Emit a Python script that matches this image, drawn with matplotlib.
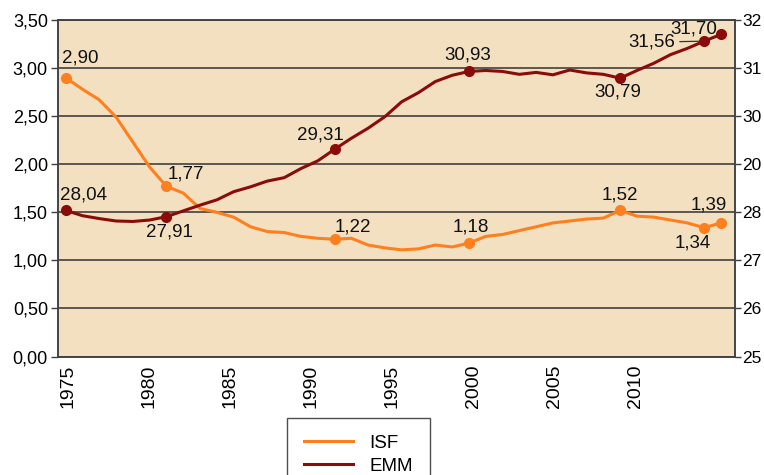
import matplotlib
matplotlib.use('Agg')
import matplotlib.pyplot as plt
import numpy as np

plt.rcParams['font.family'] = ['Liberation Sans', 'DejaVu Sans']

# ── Data ──────────────────────────────────────────────────────
years = list(range(1975, 2015))
isf = [2.90, 2.78, 2.67, 2.49, 2.23, 1.97, 1.77, 1.70, 1.54, 1.50,
       1.45, 1.35, 1.30, 1.29, 1.25, 1.23, 1.22, 1.23, 1.16, 1.13,
       1.11, 1.12, 1.16, 1.14, 1.18, 1.25, 1.27, 1.31, 1.35, 1.39,
       1.41, 1.43, 1.44, 1.52, 1.46, 1.45, 1.42, 1.39, 1.34, 1.39]
emm = [28.04, 27.93, 27.87, 27.82, 27.81, 27.84, 27.91, 28.03, 28.15, 28.26,
       28.43, 28.53, 28.65, 28.72, 28.91, 29.07, 29.31, 29.54, 29.75, 29.99,
       30.30, 30.49, 30.72, 30.85, 30.93, 30.95, 30.93, 30.87, 30.91, 30.86,
       30.96, 30.90, 30.87, 30.79, 30.95, 31.10, 31.28, 31.41, 31.56, 31.70]
marked_years = [1975, 1981, 1991, 1999, 2008, 2013, 2014]

x_labels = ['1975', '1980', '1985', '1990', '1995', '2000', '2005', '2010']
left_ticks = [0, 0.5, 1.0, 1.5, 2.0, 2.5, 3.0, 3.5]
right_ticks = [25, 26, 27, 28, 29, 30, 31, 32]
right_labels = ['25', '26', '27', '28', '20', '30', '31', '32']

# label offsets in pixels (dx, dy) for each marked point
isf_offsets = [(15, 20), (19, 12), (18, 12), (2, 16), (0, 15), (-11, -15), (-12, 18)]
emm_offsets = [(18, 15), (3, -15), (-14, 14), (-1, 16), (-2, -14), (-52, -1), (-27, 5)]

ISF_C = '#FF7F1E'
EMM_C = '#8B0A0A'
BG = '#F3E0C1'
GRID = '#333333'


def fmt(v):
    return f"{v:.2f}".replace('.', ',')


fig = plt.figure(figsize=(7.64, 4.75), dpi=100)
ax = fig.add_axes([0.0755, 0.2493, 0.8865, 0.7086])
ax.set_facecolor(BG)
ax2 = ax.twinx()

ax.plot(years, isf, color=ISF_C, linewidth=2.2, zorder=3, label='ISF')
ax2.plot(years, emm, color=EMM_C, linewidth=2.2, zorder=3, label='EMM')

idx = [years.index(y) for y in marked_years]
ax.plot([years[i] for i in idx], [isf[i] for i in idx], 'o', color=ISF_C,
        markersize=7, zorder=4)
ax2.plot([years[i] for i in idx], [emm[i] for i in idx], 'o', color=EMM_C,
         markersize=7, zorder=4)

for k, i in enumerate(idx):
    dx, dy = isf_offsets[k]
    ax.annotate(fmt(isf[i]), (years[i], isf[i]), xytext=(dx * 0.72, dy * 0.72),
                textcoords='offset points', ha='center', va='center',
                fontsize=13.5, color='#111111', zorder=5)
for k, i in enumerate(idx):
    dx, dy = emm_offsets[k]
    arrow = None
    if marked_years[k] == 2013:
        arrow = dict(arrowstyle='-', color='#333333', linewidth=0.9,
                     shrinkA=1, shrinkB=4)
    ax2.annotate(fmt(emm[i]), (years[i], emm[i]), xytext=(dx * 0.72, dy * 0.72),
                 textcoords='offset points', ha='center', va='center',
                 fontsize=13.5, color='#111111', zorder=5, arrowprops=arrow)

ax.set_xlim(1974.524, 2014.833)
ax.set_ylim(0, 3.5)
ax2.set_ylim(25, 32)

ax.set_yticks(left_ticks)
ax.set_yticklabels([fmt(v) for v in left_ticks])
ax2.set_yticks(right_ticks)
ax2.set_yticklabels(right_labels)

tick_pos = 1975.15 + 4.82 * np.arange(len(x_labels))
ax.set_xticks(tick_pos)
ax.set_xticklabels(x_labels, rotation=90, fontsize=14)
ax.tick_params(axis='x', length=0, pad=6)
ax.tick_params(axis='y', labelsize=13, length=5, width=1, color='#404040', pad=2)
ax2.tick_params(axis='y', labelsize=12.5, length=4, width=1, color='#404040', pad=1.5)

ax.grid(axis='y', color=GRID, linewidth=1.1)
ax.set_axisbelow(True)
for a in (ax, ax2):
    for s in a.spines.values():
        s.set_color('#404040')
        s.set_linewidth(1.1)

fig.legend(handles=ax.get_lines()[:1] + ax2.get_lines()[:1],
           labels=['ISF', 'EMM'], loc='upper left',
           bbox_to_anchor=(287 / 764, 1 - 418 / 475), fontsize=13.5,
           frameon=True, fancybox=False, edgecolor='#222222',
           handlelength=2.6, handletextpad=0.9, borderpad=0.9,
           labelspacing=0.3, borderaxespad=0)

fig.savefig('out.png', dpi=100)
